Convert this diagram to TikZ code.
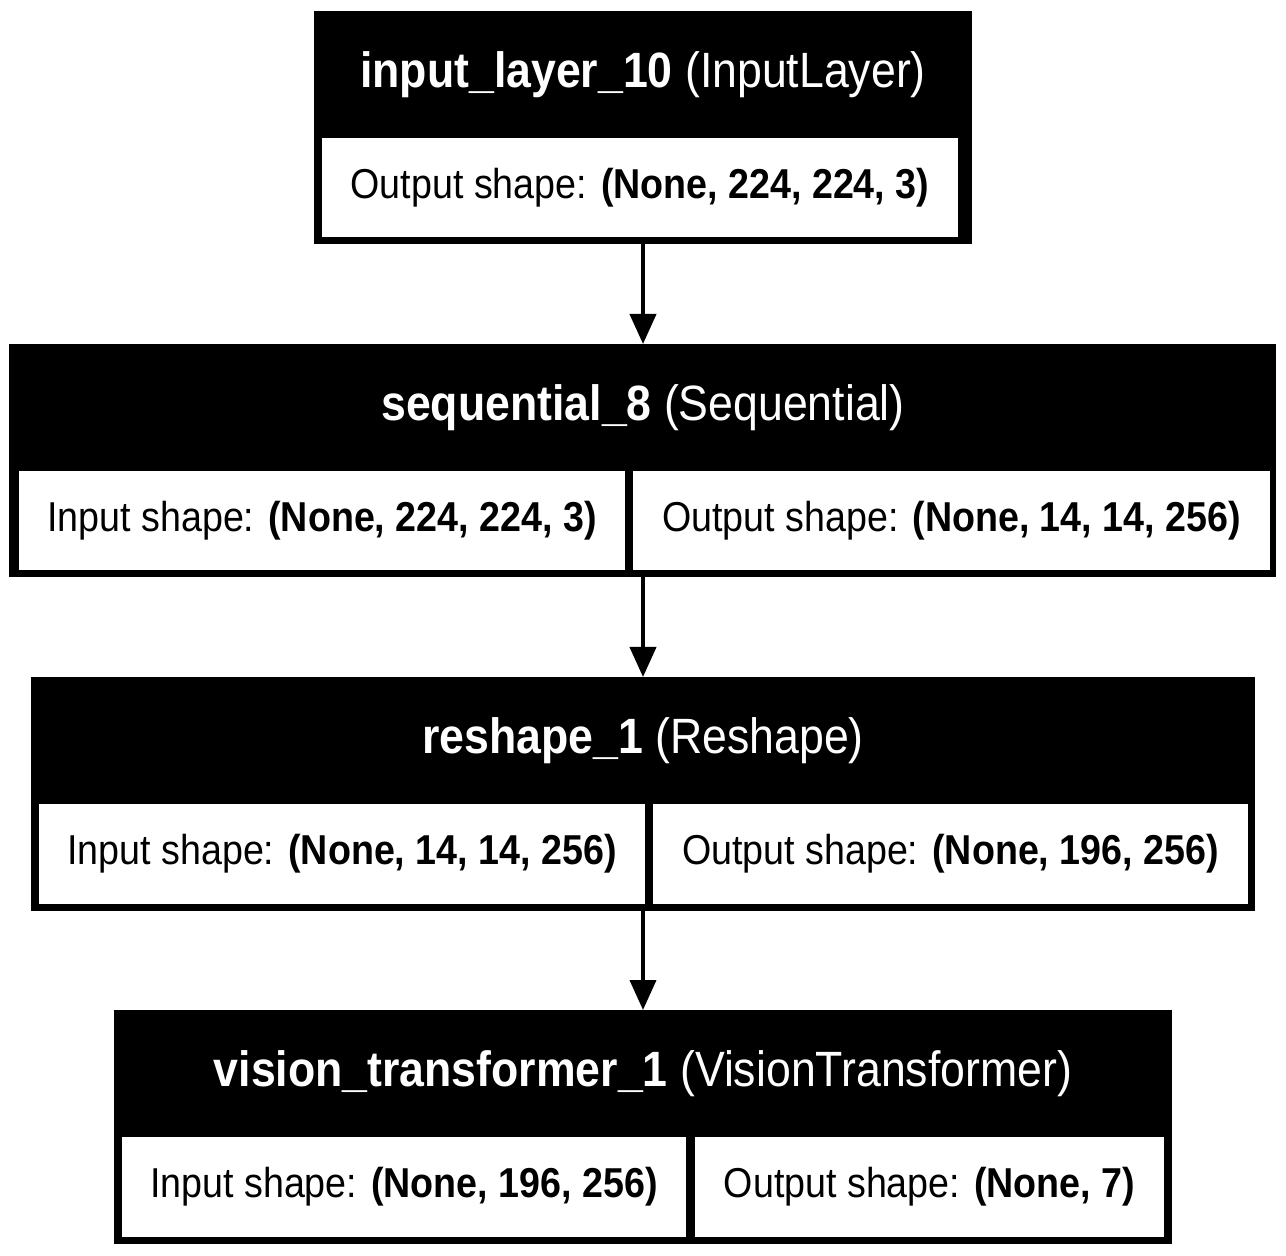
\documentclass[tikz,border=0pt]{standalone}
\usepackage{fontspec}
\setmainfont[FakeStretch=0.9]{Liberation Sans}
\usetikzlibrary{arrows.meta}

\begin{document}
\begin{tikzpicture}[x=0.5pt, y=-0.5pt,
  layer/.style={fill=black, inner sep=0pt, outer sep=0pt, minimum height=116.5pt},
  ttl/.style={text=white, inner sep=0pt, font=\fontsize{24.8}{30}\selectfont},
  cell/.style={fill=white, inner sep=0pt, outer sep=0pt, minimum height=49.5pt, font=\fontsize{20.9}{25}\selectfont},
  arr/.style={-{Triangle[length=15pt, width=13pt]}, line width=2pt}]
\useasboundingbox (0,0) rectangle (1286,1256);
% input layer
\node[layer, minimum width=329pt] (inp) at (643,127.5) {};
\node[ttl] (inp-t) at (643,74.5) {\textbf{input\_layer\_10} (InputLayer)};
\node[cell, minimum width=318pt] (inp-out) at (640,187.5) {Output shape: \textbf{(None, 224, 224, 3)}};
% sequential
\node[layer, minimum width=633.5pt] (seq) at (642.5,460.5) {};
\node[ttl] (seq-t) at (643,407.5) {\textbf{sequential\_8} (Sequential)};
\node[cell, minimum width=303pt] (seq-in) at (322,520.5) {Input shape: \textbf{(None, 224, 224, 3)}};
\node[cell, minimum width=318.5pt] (seq-out) at (951.5,520.5) {Output shape: \textbf{(None, 14, 14, 256)}};
% reshape
\node[layer, minimum width=612pt, minimum height=117pt] (resh) at (643,794) {};
\node[ttl] (resh-t) at (643,740.5) {\textbf{reshape\_1} (Reshape)};
\node[cell, minimum width=303pt, minimum height=50pt] (resh-in) at (342,854) {Input shape: \textbf{(None, 14, 14, 256)}};
\node[cell, minimum width=297.5pt, minimum height=50pt] (resh-out) at (950.5,854) {Output shape: \textbf{(None, 196, 256)}};
% vision transformer
\node[layer, minimum width=529pt, minimum height=117pt] (vit) at (643,1127) {};
\node[ttl] (vit-t) at (643,1073.5) {\textbf{vision\_transformer\_1} (VisionTransformer)};
\node[cell, minimum width=282pt, minimum height=50pt] (vit-in) at (404,1187) {Input shape: \textbf{(None, 196, 256)}};
\node[cell, minimum width=234.5pt, minimum height=50pt] (vit-out) at (929.5,1187) {Output shape: \textbf{(None, 7)}};
% arrows
\draw[arr] (inp.south) -- (inp.south |- seq.north);
\draw[arr] (inp.south |- seq.south) -- (inp.south |- resh.north);
\draw[arr] (resh.south) -- (vit.north);
\end{tikzpicture}
\end{document}
